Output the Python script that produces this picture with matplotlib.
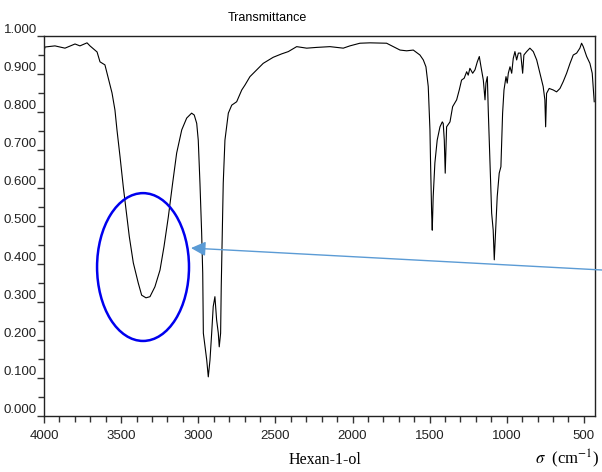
import matplotlib
matplotlib.use("Agg")
import matplotlib.pyplot as plt
import matplotlib.ticker as mticker
from matplotlib.patches import Ellipse

# IR spectrum of hexan-1-ol
wavenumber = [
    4000, 3994, 3929, 3864, 3799, 3767, 3721, 3702, 3656, 3637, 3605, 3585,
    3559, 3540, 3527, 3507, 3486, 3468, 3447, 3421, 3389, 3367, 3339, 3313,
    3281, 3248, 3222, 3194, 3166, 3140, 3107, 3075, 3043, 3026, 3010, 3000,
    2989, 2978, 2971, 2967, 2956, 2945, 2935, 2924, 2913, 2903, 2892, 2881,
    2870, 2864, 2855, 2851, 2844, 2838, 2827, 2805, 2783, 2751, 2718, 2697,
    2665, 2621, 2579, 2514, 2459, 2416, 2362, 2297, 2232, 2146, 2060, 2017,
    1952, 1887, 1779, 1692, 1649, 1606, 1563, 1541, 1524, 1509, 1498, 1494,
    1487, 1483, 1477, 1466, 1451, 1433, 1418, 1412, 1405, 1399, 1390, 1368,
    1351, 1325, 1308, 1293, 1276, 1260, 1250, 1239, 1221, 1206, 1191, 1178,
    1167, 1152, 1141, 1135, 1126, 1120, 1109, 1098, 1088, 1081, 1072, 1062,
    1049, 1038, 1027, 1018, 1005, 997, 990, 979, 968, 958, 947, 936,
    925, 910, 897, 889, 871, 850, 828, 806, 785, 764, 753, 748,
    742, 725, 699, 677, 655, 634, 612, 590, 569, 547, 526, 515,
    504, 482, 461, 446, 433,
]
transmittance = [
    0.958, 0.971, 0.974, 0.968, 0.979, 0.974, 0.982, 0.974, 0.958, 0.932, 0.924, 0.892,
    0.850, 0.805, 0.753, 0.682, 0.603, 0.542, 0.472, 0.403, 0.350, 0.318, 0.311, 0.314,
    0.340, 0.384, 0.446, 0.524, 0.613, 0.692, 0.753, 0.784, 0.797, 0.792, 0.770, 0.726,
    0.613, 0.482, 0.376, 0.218, 0.182, 0.147, 0.103, 0.147, 0.218, 0.288, 0.314, 0.253,
    0.218, 0.182, 0.218, 0.340, 0.482, 0.613, 0.726, 0.797, 0.818, 0.827, 0.858, 0.871,
    0.893, 0.911, 0.928, 0.944, 0.953, 0.959, 0.972, 0.968, 0.970, 0.972, 0.968, 0.974,
    0.981, 0.982, 0.981, 0.963, 0.961, 0.963, 0.950, 0.937, 0.919, 0.867, 0.753, 0.666,
    0.534, 0.489, 0.577, 0.666, 0.726, 0.761, 0.774, 0.770, 0.726, 0.639, 0.761, 0.774,
    0.814, 0.832, 0.858, 0.884, 0.889, 0.906, 0.897, 0.915, 0.902, 0.911, 0.932, 0.946,
    0.919, 0.884, 0.832, 0.876, 0.893, 0.805, 0.666, 0.534, 0.489, 0.411, 0.489, 0.577,
    0.639, 0.656, 0.797, 0.858, 0.893, 0.876, 0.902, 0.919, 0.902, 0.941, 0.959, 0.937,
    0.955, 0.955, 0.902, 0.950, 0.959, 0.968, 0.959, 0.937, 0.902, 0.867, 0.832, 0.761,
    0.849, 0.862, 0.858, 0.853, 0.862, 0.880, 0.902, 0.928, 0.950, 0.955, 0.968, 0.981,
    0.972, 0.946, 0.928, 0.902, 0.827,
]

x_major = [4000, 3500, 3000, 2500, 2000, 1500, 1000, 500]
y_major = [0.0, 0.1, 0.2, 0.3, 0.4, 0.5, 0.6, 0.7, 0.8, 0.9, 1.0]

# O-H band highlight
ellipse_center = (3358, 0.392)
ellipse_size = (596, 0.389)
arrow_tip = (3047, 0.442)

plt.rcParams["font.family"] = ["Liberation Sans", "DejaVu Sans"]
plt.rcParams["mathtext.fontset"] = "stix"

fig = plt.figure(figsize=(6.02, 4.72), dpi=100)
ax = fig.add_axes([44 / 602, 1 - 416 / 472, 551 / 602, 380 / 472])

ax.plot(wavenumber, transmittance, color="black", lw=0.8)

ax.set_xlim(4000, 428)
ax.set_ylim(0, 1.0)
ax.xaxis.set_major_locator(mticker.FixedLocator(x_major))
ax.xaxis.set_minor_locator(mticker.MultipleLocator(100))
ax.yaxis.set_major_locator(mticker.FixedLocator(y_major))
ax.yaxis.set_minor_locator(mticker.MultipleLocator(0.05))
ax.set_xticklabels([str(v) for v in x_major])
ax.set_yticklabels(["%.3f" % v for v in y_major])
for lab in ax.get_yticklabels():
    lab.set_verticalalignment("bottom")

ax.tick_params(which="major", direction="out", length=5, width=1,
               labelsize=9.5, color="#333333", labelcolor="#222222")
ax.tick_params(which="minor", direction="out", length=4, width=1, color="#333333")
ax.tick_params(axis="y", pad=0)
ax.tick_params(axis="x", pad=5)
for s in ax.spines.values():
    s.set_linewidth(1.0)
    s.set_color("#222222")

ax.add_patch(Ellipse(ellipse_center, ellipse_size[0], ellipse_size[1],
                     fill=False, edgecolor="#0000ee", lw=1.8, zorder=5))
ax.annotate("", xy=arrow_tip, xycoords="data",
            xytext=(1.0, 1 - 270 / 472), textcoords="figure fraction",
            arrowprops=dict(arrowstyle="-|>", color="#5b9bd5", lw=1.0,
                            mutation_scale=22, shrinkA=0, shrinkB=0),
            annotation_clip=False)

fig.text(267 / 602, 1 - 18 / 472, "Transmittance", ha="center", va="center",
         fontsize=9)
fig.text(325 / 602, 1 - 460 / 472, "Hexan-1-ol", ha="center", va="center",
         fontsize=11.5, family="Liberation Serif")
fig.text(567 / 602, 1 - 459 / 472, r"$\sigma$  (cm$^{-1}$)", ha="center",
         va="center", fontsize=12, family="Liberation Serif")

fig.savefig("out.png", dpi=100)
